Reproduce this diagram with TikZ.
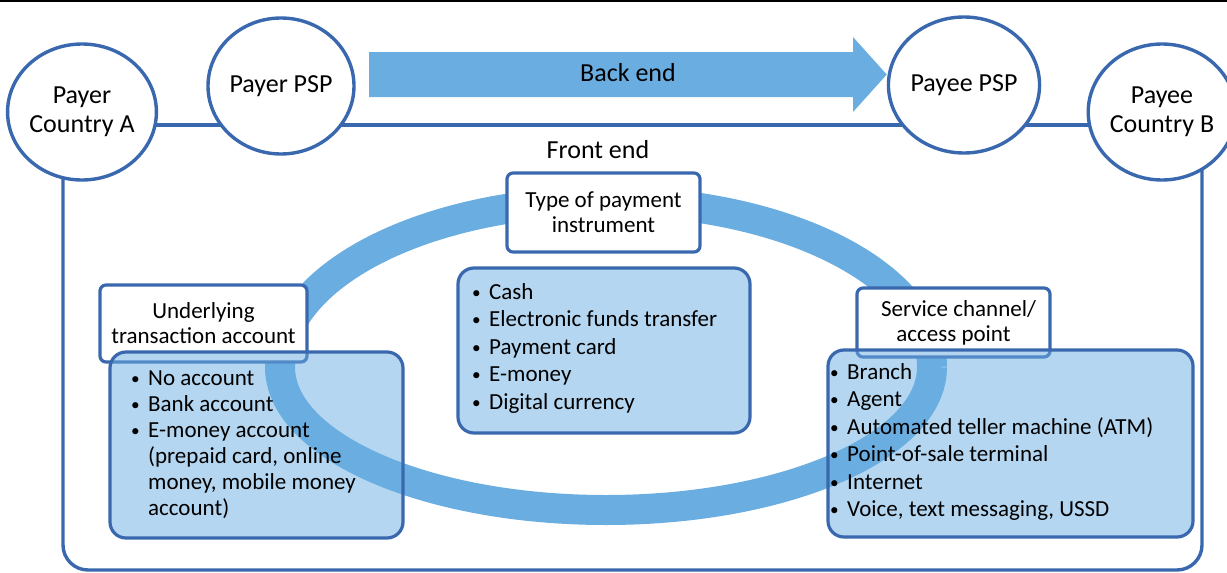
\documentclass[tikz,border=0pt]{standalone}
\usepackage{fontspec}
\usepackage{graphicx}
\setmainfont{Carlito}
\usetikzlibrary{shapes.geometric, positioning, backgrounds}
\definecolor{edgeblue}{HTML}{3A68AE}
\definecolor{ringblue}{HTML}{6AADE1}

\newcommand{\itm}{\makebox[17pt][l]{\raisebox{1pt}{\scalebox{0.75}{\textbullet}}}}
\newcommand{\itmpad}{\hspace*{17pt}}

\begin{document}
\begin{tikzpicture}[x=1pt, y=-1pt,
    party/.style={ellipse, draw=edgeblue, line width=3.4pt, fill=white,
                  minimum width=146pt, minimum height=136pt, align=center,
                  inner sep=0pt, font=\fontsize{26}{29}\selectfont},
    tag/.style={rectangle, rounded corners=6pt, draw=edgeblue, line width=3.2pt,
                fill=white, align=center, inner sep=0pt,
                font=\fontsize{23}{25}\selectfont},
    panel/.style={rectangle, rounded corners=16pt, draw=edgeblue, line width=3.2pt,
                  fill=ringblue, fill opacity=0.5},
    items/.style={anchor=west, align=left, inner sep=0pt,
                  font=\fontsize{23}{27.5}\selectfont},
    link/.style={draw=edgeblue, line width=3.4pt}
]
\useasboundingbox (0,0) rectangle (1227,573);
\draw[line width=2pt] (0,1) -- (1227,1);

% parties
\node[party] (countryA) at (82,112)   {Payer\\Country A};
\node[party] (payerpsp) at (281,86)   {Payer PSP};
\node[party] (payeepsp) at (964,85)   {Payee PSP};
\node[party] (countryB) at (1162,112) {Payee\\Country B};

% back end
\fill[ringblue] (369,52) -- (853,52) -- (853,37) -- (payeepsp.west |- 0,74.5)
    -- (853,112) -- (853,97) -- (369,97) -- cycle;
\node[font=\fontsize{26}{29}\selectfont] (backend) at (628,73) {Back end};
\node[font=\fontsize{26}{29}\selectfont] (frontend) at (598,150) {Front end};

% the three dimensions
\node[tag, minimum width=193pt, minimum height=79pt] (instrtag) at (603.5,212.5)
    {Type of payment\\instrument};
\node[tag, minimum width=207pt, minimum height=77pt] (acctag) at (203.5,323.5)
    {Underlying\\transaction account};
\node[tag, minimum width=193pt, minimum height=69pt] (chantag) at (953.5,322.5)
    {\hspace*{10pt}Service channel/\\access point};

\node[panel, minimum width=292pt, minimum height=165pt] (instrbox) at (604,350.5) {};
\node[panel, minimum width=293pt, minimum height=186pt] (accbox) at (256.5,445) {};
\node[panel, minimum width=365pt, minimum height=187pt] (chanbox) at (1010.5,443.5) {};

\node[items] (instrlist) at (472,348)
    {\itm Cash\\ \itm Electronic funds transfer\\ \itm Payment card\\
     \itm E-money\\ \itm Digital currency};
\node[items, font=\fontsize{23}{26}\selectfont] (acclist) at (131,445)
    {\itm No account\\ \itm Bank account\\ \itm E-money account\\
     \itmpad(prepaid card, online\\ \itmpad money, mobile money\\ \itmpad account)};
\node[items] (chanlist) at (830,442)
    {\itm Branch\\ \itm Agent\\ \itm Automated teller machine (ATM)\\
     \itm Point-of-sale terminal\\ \itm Internet\\ \itm Voice, text messaging, USSD};

\begin{scope}[on background layer]
\coordinate (ringc) at (606,367);
\coordinate (fbot) at (600,570);
\draw[link] ([yshift=-13pt]countryA.center) -- ([yshift=-13pt]countryB.center);
\draw[link, rounded corners=25pt] ([xshift=-19pt]countryA.center) |- (fbot)
    -| ([xshift=40pt]countryB.center);
\draw[ringblue, line width=30pt] ([xshift=326pt]ringc)
    arc[start angle=0, end angle=180, x radius=326pt, y radius=166pt]
    arc[start angle=180, end angle=360, x radius=326pt, y radius=143pt];
\end{scope}
\end{tikzpicture}
\end{document}
